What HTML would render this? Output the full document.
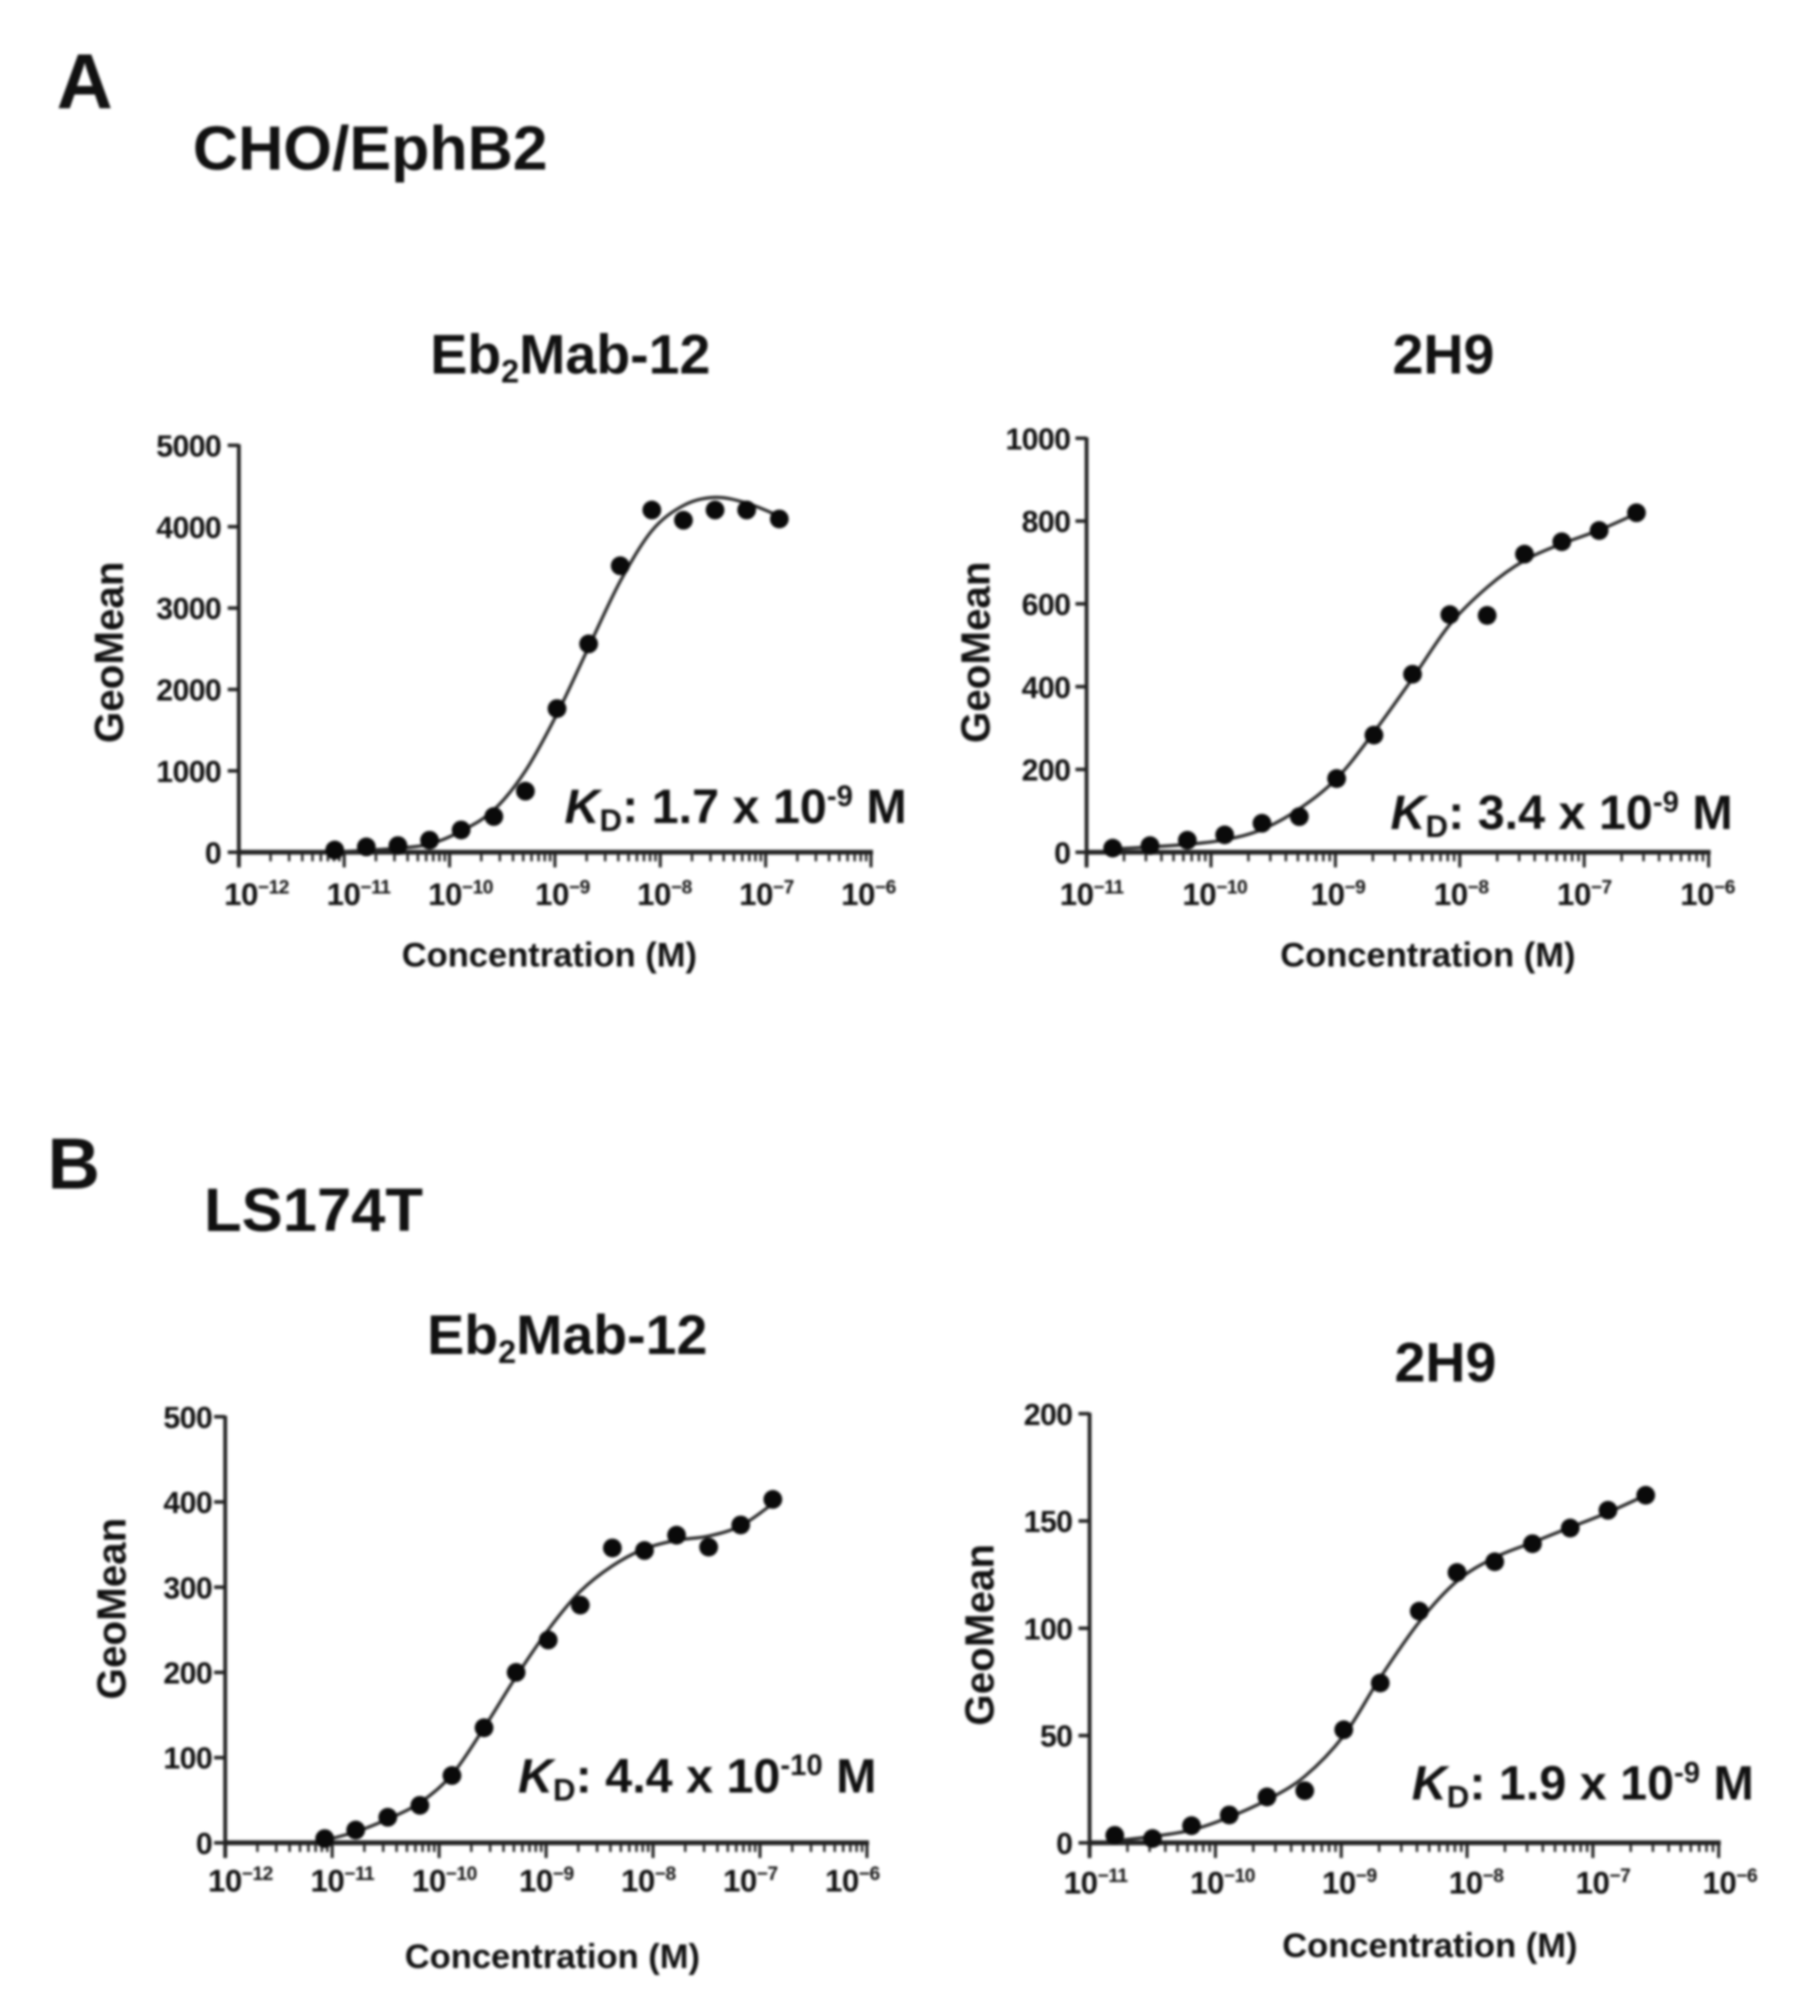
<!DOCTYPE html>
<html lang="en">
<head>
<meta charset="utf-8">
<title>Binding curves</title>
<style>
html,body{margin:0;padding:0;background:#fff;}
body{width:1798px;height:2012px;overflow:hidden;}
svg{display:block;filter:blur(1.3px);}
text{font-family:"Liberation Sans",Arial,sans-serif;font-weight:bold;fill:#111;}
</style>
</head>
<body>
<svg id="figure" width="1798" height="2012" viewBox="0 0 1780.5 1992.5" xmlns="http://www.w3.org/2000/svg">
<text x="56" y="107" font-size="77">A</text>
<text x="191" y="168" font-size="62">CHO/EphB2</text>
<text x="47" y="1177" font-size="72">B</text>
<text x="202" y="1219" font-size="61">LS174T</text>
</svg>
<script>
// Panel A, Eb2Mab-12
const a1LogConc = [-11.09,-10.79,-10.49,-10.19,-9.89,-9.58,-9.28,-8.98,-8.68,-8.38,-8.08,-7.78,-7.48,-7.18,-6.87];
const a1GeoMean = [27,66,82,148,274,439,751,1765,2560,3520,4205,4079,4205,4205,4095];
const a1CurveFit = [0,25,50,100,260,520,1000,1700,2520,3330,3950,4260,4360,4290,4130];
const a1YTicks = [0,1000,2000,3000,4000,5000];
const a1XTicks = [-12,-11,-10,-9,-8,-7,-6];

// Panel A, 2H9
const a2LogConc = [-10.79,-10.49,-10.19,-9.89,-9.59,-9.29,-8.99,-8.69,-8.38,-8.08,-7.78,-7.48,-7.18,-6.88,-6.58];
const a2GeoMean = [10,16,29,42,70,86,178,283,430,574,572,720,750,777,820];
const a2CurveFit = [8,13,19,30,55,105,178,290,420,550,640,705,745,778,818];
const a2YTicks = [0,200,400,600,800,1000];
const a2XTicks = [-11,-10,-9,-8,-7,-6];

// Panel B, Eb2Mab-12
const b1LogConc = [-11.07,-10.78,-10.48,-10.18,-9.88,-9.58,-9.28,-8.98,-8.68,-8.38,-8.08,-7.78,-7.48,-7.18,-6.88];
const b1GeoMean = [5,15,30,44,79,135,200,238,279,346,343,361,347,373,403];
const b1CurveFit = [3,13,28,47,80,135,195,250,295,325,345,355,360,372,398];
const b1YTicks = [0,100,200,300,400,500];
const b1XTicks = [-12,-11,-10,-9,-8,-7,-6];

// Panel B, 2H9
const b2LogConc = [-10.80,-10.50,-10.19,-9.89,-9.59,-9.29,-8.98,-8.69,-8.38,-8.08,-7.78,-7.48,-7.18,-6.88,-6.58];
const b2GeoMean = [3.5,2,8,13,21.4,24.3,52.7,74.5,108,126,131,139.4,146.7,155,162];
const b2CurveFit = [1,3,6,12,20,31,50,77,103,122,133,140,147,154,162];
const b2YTicks = [0,50,100,150,200];
const b2XTicks = [-11,-10,-9,-8,-7,-6];

const svg = document.getElementById('figure');
const NS = 'http://www.w3.org/2000/svg';

function make(tag, attrs, parent) {
  const node = document.createElementNS(NS, tag);
  for (const k in attrs) node.setAttribute(k, attrs[k]);
  parent.appendChild(node);
  return node;
}

function addSpan(parent, str, size, dy, italic) {
  const s = make('tspan', {}, parent);
  if (size) s.setAttribute('font-size', size);
  if (dy) s.setAttribute('dy', dy);
  if (italic) s.setAttribute('font-style', 'italic');
  s.textContent = str;
  return s;
}

function smoothPath(pts) {
  let d = 'M' + pts[0][0].toFixed(1) + ' ' + pts[0][1].toFixed(1);
  for (let i = 0; i < pts.length - 1; i++) {
    const p0 = pts[Math.max(i - 1, 0)], p1 = pts[i], p2 = pts[i + 1], p3 = pts[Math.min(i + 2, pts.length - 1)];
    const c1x = p1[0] + (p2[0] - p0[0]) / 6, c1y = p1[1] + (p2[1] - p0[1]) / 6;
    const c2x = p2[0] - (p3[0] - p1[0]) / 6, c2y = p2[1] - (p3[1] - p1[1]) / 6;
    d += 'C' + c1x.toFixed(1) + ' ' + c1y.toFixed(1) + ' ' + c2x.toFixed(1) + ' ' + c2y.toFixed(1) + ' ' + p2[0].toFixed(1) + ' ' + p2[1].toFixed(1);
  }
  return d;
}

function drawPanel(cfg) {
  const g = make('g', {}, svg);
  
  

  const minExp = cfg.xTicks[0], maxExp = cfg.xTicks[cfg.xTicks.length - 1];
  const maxY = cfg.yTicks[cfg.yTicks.length - 1];
  const xScale = v => cfg.left + (v - minExp) / (maxExp - minExp) * (cfg.right - cfg.left);
  const yScale = v => cfg.bottom - v / maxY * (cfg.bottom - cfg.top);
  const labelX = v => cfg.labelLeft + (v - minExp) / (maxExp - minExp) * (cfg.labelRight - cfg.labelLeft);

  // title
  const title = make('text', { x: cfg.titleX, y: cfg.titleY, 'font-size': 55 }, g);
  
  
  if (cfg.isEb) {
    addSpan(title, 'Eb');
    addSpan(title, '2', 32, 9);
    addSpan(title, 'Mab-12', 55, -9);
  } else {
    addSpan(title, '2H9');
  }

  // y axis
  const yAxis = make('line', { x1: cfg.left, x2: cfg.left, y1: cfg.top - 1, y2: cfg.bottom + 15, stroke: '#222', 'stroke-width': 3.8 }, g);
  
  

  cfg.yTicks.forEach(v => {
    const tick = make('line', { x1: cfg.left - 11, x2: cfg.left, y1: yScale(v), y2: yScale(v), stroke: '#222', 'stroke-width': 3.5 }, g);
    
    
    const lab = make('text', { x: cfg.yLabelRight, y: yScale(v) + 11, 'font-size': 30, 'text-anchor': 'end', 'letter-spacing': -0.6 }, g);
    
    
    lab.textContent = v;
  });

  // x axis
  const xAxis = make('line', { x1: cfg.left, x2: cfg.right + 2, y1: cfg.bottom, y2: cfg.bottom, stroke: '#222', 'stroke-width': 4.8 }, g);
  
  

  cfg.xTicks.forEach((exp, i) => {
    const tick = make('line', { x1: xScale(exp), x2: xScale(exp), y1: cfg.bottom, y2: cfg.bottom + 15, stroke: '#222', 'stroke-width': 3 }, g);
    
    
    if (i < cfg.xTicks.length - 1) {
      for (let m = 2; m <= 9; m++) {
        const mx = xScale(exp + Math.log10(m));
        const minor = make('line', { x1: mx, x2: mx, y1: cfg.bottom, y2: cfg.bottom + 9, stroke: '#222', 'stroke-width': 2.4 }, g);
        
        
      }
    }
    const lab = make('text', { x: labelX(exp), y: cfg.labelY, 'font-size': 31, 'text-anchor': 'middle', 'letter-spacing': -0.5 }, g);
    
    
    addSpan(lab, '10');
    addSpan(lab, '\u2212' + Math.abs(exp), 19, -11);
  });

  // axis titles
  const xTitle = make('text', { x: cfg.xTitleX, y: cfg.xTitleY, 'font-size': 34.2, 'text-anchor': 'middle' }, g);
  
  
  xTitle.textContent = 'Concentration (M)';

  const yTitle = make('text', { transform: 'translate(' + cfg.yTitleX + ' ' + cfg.yTitleY + ') rotate(-90)', 'font-size': 40, 'text-anchor': 'middle' }, g);
  
  
  yTitle.textContent = 'GeoMean';

  // fit curve
  const curvePts = cfg.conc.map((c, i) => [xScale(c), yScale(cfg.fit[i])]);
  const curve = make('path', { d: smoothPath(curvePts), fill: 'none', stroke: '#2c2c2c', 'stroke-width': 3.2 }, g);
  
  

  // points
  cfg.conc.forEach((c, i) => {
    const dot = make('circle', { cx: xScale(c), cy: yScale(cfg.values[i]), r: 9.3, fill: '#0a0a0a' }, g);
    
    
  });

  // KD annotation
  const kd = make('text', { x: cfg.kdX, y: cfg.kdY, 'font-size': 48 }, g);
  
  
  addSpan(kd, 'K', null, null, true);
  addSpan(kd, 'D', 31, 8);
  addSpan(kd, ': ' + cfg.kdMantissa + ' x 10', 48, -8);
  addSpan(kd, cfg.kdExp, 29, -17);
  addSpan(kd, ' M', 48, 17);
}

drawPanel({ id: 'a-eb2mab12', isEb: true, conc: a1LogConc, values: a1GeoMean, fit: a1CurveFit, yTicks: a1YTicks, xTicks: a1XTicks,
  left: 236.5, right: 862.5, top: 441, bottom: 844, labelLeft: 254, labelRight: 860, labelY: 896, yLabelRight: 219,
  titleX: 426, titleY: 370, xTitleX: 544, xTitleY: 957, yTitleX: 122, yTitleY: 646, kdX: 559, kdY: 815, kdMantissa: '1.7', kdExp: '-9' });
drawPanel({ id: 'a-2h9', isEb: false, conc: a2LogConc, values: a2GeoMean, fit: a2CurveFit, yTicks: a2YTicks, xTicks: a2XTicks,
  left: 1076, right: 1692, top: 434, bottom: 844, labelLeft: 1081, labelRight: 1691, labelY: 896, yLabelRight: 1060,
  titleX: 1379, titleY: 370, xTitleX: 1414, xTitleY: 957, yTitleX: 980, yTitleY: 646, kdX: 1377, kdY: 821, kdMantissa: '3.4', kdExp: '-9' });
drawPanel({ id: 'b-eb2mab12', isEb: true, conc: b1LogConc, values: b1GeoMean, fit: b1CurveFit, yTicks: b1YTicks, xTicks: b1XTicks,
  left: 223, right: 858.5, top: 1403, bottom: 1825, labelLeft: 238, labelRight: 844, labelY: 1873, yLabelRight: 210,
  titleX: 423, titleY: 1341, xTitleX: 547, xTitleY: 1949, yTitleX: 124, yTitleY: 1593, kdX: 513, kdY: 1775, kdMantissa: '4.4', kdExp: '-10' });
drawPanel({ id: 'b-2h9', isEb: false, conc: b2LogConc, values: b2GeoMean, fit: b2CurveFit, yTicks: b2YTicks, xTicks: b2XTicks,
  left: 1079, right: 1702, top: 1400, bottom: 1825, labelLeft: 1085, labelRight: 1713, labelY: 1875, yLabelRight: 1062,
  titleX: 1381, titleY: 1368, xTitleX: 1416, xTitleY: 1938, yTitleX: 984, yTitleY: 1619, kdX: 1398, kdY: 1782, kdMantissa: '1.9', kdExp: '-9' });
</script>
</body>
</html>
